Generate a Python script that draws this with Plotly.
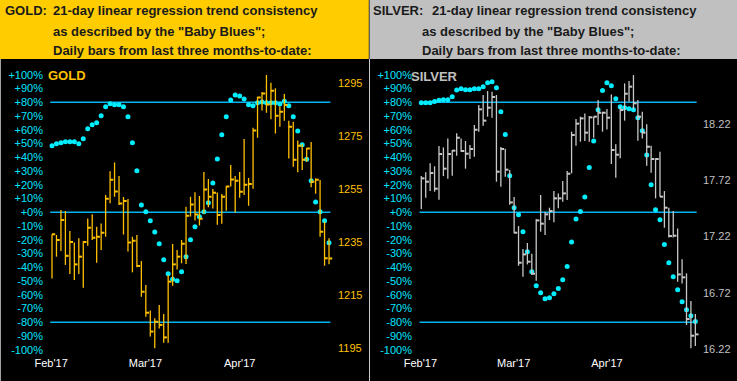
import plotly.graph_objects as go

# ---------------- data ----------------
months = ["Feb'17", "Mar'17", "Apr'17"]
month_tick_idx = [-0.2, 20.9, 42.0]

pct_ticks = list(range(-100, 101, 10))
pct_labels = [f"{v:+d}%" for v in pct_ticks]
trend_levels = [-80, 0, 80]

gold_price_ticks = [1195, 1215, 1235, 1255, 1275, 1295]
silver_price_ticks = [16.22, 16.72, 17.22, 17.72, 18.22]

gold_high = [1237.9, 1237.7, 1247.1, 1246.7, 1239.2, 1234.8, 1236.4, 1235.3, 1243.9, 1245.5,
             1240.8, 1242.0, 1252.7, 1261.7, 1265.0, 1259.9, 1252.0, 1251.2, 1237.0, 1237.7,
             1227.9, 1218.8, 1209.2, 1206.3, 1211.3, 1207.9, 1222.6, 1234.3, 1232.0, 1235.8,
             1248.3, 1252.1, 1253.8, 1252.3, 1261.4, 1258.7, 1255.0, 1253.7, 1253.1, 1256.1,
             1264.0, 1259.9, 1261.4, 1273.8, 1259.1, 1278.0, 1289.7, 1291.5, 1297.9, 1295.0,
             1292.9, 1286.0, 1290.7, 1280.7, 1280.3, 1273.2, 1271.9, 1270.4, 1272.7, 1259.0,
             1258.4, 1242.7, 1236.4]
gold_low = [1221.3, 1229.5, 1231.6, 1226.4, 1223.0, 1220.7, 1223.0, 1217.8, 1233.6, 1235.8,
            1227.2, 1232.0, 1237.0, 1249.6, 1252.1, 1249.0, 1237.8, 1231.4, 1223.6, 1225.5,
            1214.4, 1206.9, 1199.4, 1195.0, 1202.5, 1197.1, 1197.1, 1218.5, 1224.7, 1227.0,
            1226.7, 1244.6, 1243.1, 1241.2, 1245.8, 1248.1, 1247.6, 1241.5, 1241.9, 1246.8,
            1255.9, 1246.1, 1251.7, 1252.7, 1248.7, 1255.1, 1274.3, 1284.5, 1283.7, 1281.2,
            1275.9, 1278.4, 1280.7, 1266.5, 1263.4, 1261.3, 1262.1, 1265.2, 1255.6, 1253.2,
            1237.0, 1226.1, 1226.6]
gold_close = [1237.9, 1235.8, 1243.3, 1229.8, 1235.0, 1226.6, 1229.5, 1235.0, 1240.4, 1236.6,
              1237.0, 1238.5, 1251.3, 1258.5, 1254.0, 1249.5, 1250.5, 1234.8, 1235.5, 1226.0,
              1216.3, 1208.4, 1201.3, 1205.0, 1203.8, 1199.1, 1220.1, 1226.6, 1229.5, 1234.4,
              1244.9, 1249.1, 1245.4, 1243.8, 1254.8, 1252.1, 1253.6, 1245.2, 1252.1, 1255.9,
              1258.6, 1258.1, 1253.9, 1256.6, 1256.9, 1277.0, 1289.4, 1290.9, 1286.8, 1292.0,
              1282.6, 1284.1, 1286.6, 1278.4, 1266.0, 1271.3, 1266.0, 1270.2, 1257.7, 1258.5,
              1238.9, 1228.9, 1228.8]
gold_baby_blues = [48.4, 49.9, 50.6, 51.3, 51.3, 51.3, 49.9, 53.5, 60.8, 63.7,
                   65.2, 70.3, 76.8, 79.0, 78.3, 78.3, 76.8, 69.5, 50.6, 30.3,
                   5.3, 0.4, -6.1, -14.3, -22.8, -34.5, -44.7, -48.7, -49.7, -43.2,
                   -32.3, -19.9, -10.5, -3.2, 0.4, 7.0, 21.3, 38.8, 56.4, 69.5,
                   81.7, 85.3, 84.6, 82.4, 78.3, 77.5, 79.7, 80.2, 79.7, 79.7,
                   79.7, 78.8, 80.7, 77.5, 69.5, 59.1, 49.2, 38.5, 23.0, 7.5,
                   0.4, -6.1, -22.1]

silver_high = [17.757, 17.790, 17.870, 17.844, 18.024, 18.012, 18.092, 17.989, 18.137, 18.092,
               18.069, 18.033, 18.211, 18.389, 18.478, 18.513, 18.507, 18.478, 18.015, 18.001,
               17.811, 17.571, 17.313, 17.109, 17.162, 17.067, 17.375, 17.589, 17.440, 17.476,
               17.624, 17.603, 17.713, 17.802, 18.152, 18.264, 18.285, 18.314, 18.291, 18.285,
               18.433, 18.329, 18.353, 18.483, 18.039, 18.374, 18.581, 18.602, 18.655, 18.433,
               18.329, 18.217, 18.027, 17.915, 17.974, 17.624, 17.476, 17.446, 17.292, 17.017,
               16.892, 16.646, 16.531]
silver_low = [17.464, 17.565, 17.624, 17.618, 17.547, 17.757, 17.734, 17.760, 17.938, 17.974,
              17.823, 17.909, 17.929, 18.152, 18.205, 18.285, 18.276, 17.707, 17.663, 17.752,
              17.503, 17.248, 16.960, 16.863, 16.972, 16.877, 16.827, 17.263, 17.233, 17.366,
              17.346, 17.470, 17.529, 17.544, 17.781, 18.027, 18.063, 18.069, 18.063, 18.098,
              18.211, 18.152, 18.172, 17.864, 17.743, 17.915, 18.250, 18.418, 18.350, 18.072,
              18.092, 17.849, 17.787, 17.559, 17.574, 17.298, 17.212, 17.212, 16.818, 16.803,
              16.433, 16.226, 16.246]
silver_close = [17.737, 17.707, 17.784, 17.645, 17.953, 17.823, 17.953, 17.983, 18.098, 17.980,
                17.956, 17.998, 18.169, 18.350, 18.250, 18.365, 18.460, 17.796, 17.998, 17.814,
                17.523, 17.254, 16.987, 17.061, 16.996, 16.889, 17.363, 17.334, 17.417, 17.446,
                17.559, 17.559, 17.603, 17.778, 18.122, 18.223, 18.270, 18.143, 18.279, 18.285,
                18.320, 18.320, 18.276, 17.989, 17.947, 18.344, 18.489, 18.552, 18.404, 18.285,
                18.143, 18.018, 17.909, 17.909, 17.574, 17.476, 17.224, 17.227, 16.883, 16.857,
                16.486, 16.338, 16.350]
silver_baby_blues = [79.7, 79.7, 79.7, 80.5, 81.5, 81.9, 81.9, 84.1, 88.9, 89.9,
                     89.2, 89.2, 89.9, 89.9, 91.4, 94.3, 95.0, 90.6, 73.2, 56.5,
                     26.6, 3.4, -1.7, -14.1, -28.6, -43.2, -53.4, -58.5, -62.8, -62.1,
                     -59.2, -55.5, -49.0, -39.5, -21.6, -4.9, 0.5, 11.1, 32.5, 51.9,
                     74.6, 88.5, 94.3, 92.1, 82.6, 76.8, 76.1, 75.4, 74.6, 68.8,
                     59.4, 41.7, 20.1, 1.9, -5.4, -23.5, -36.6, -46.8, -56.3, -65.0,
                     -70.8, -75.2, -79.5]

header_line1 = "21-day linear regression trend consistency"
header_line2 = 'as described by the "Baby Blues";'
header_line3 = "Daily bars from last three months-to-date:"

# ---------------- styling / geometry ----------------
W, H = 737, 381
GOLD_BAR = "#FFC000"
SILVER_BAR = "#C8C8C8"
DOT = "#00EEFF"
LEVEL = "#00B4F0"
PCT_COL = "#00E5FF"
HEAD_TXT = "#1A1A1A"
FONT = "Liberation Sans, Arial, sans-serif"
TICK = 0.72


def fx(p):
    return p / W


def fy(p):
    return 1 - p / H


PLOT_TOP, PLOT_BOT = 59, 355
ydom = [fy(PLOT_BOT), fy(PLOT_TOP)]


def pct_at(py):
    return (212.3 - py) / 1.375


pct_range = [pct_at(PLOT_BOT), pct_at(PLOT_TOP)]


def gold_at(py):
    return 1295 - (py - 82.7) / 2.656


def silver_at(py):
    return 18.22 - (py - 124) / 112.5


def hlc(high, low, close):
    vx, vy, tx, ty = [], [], [], []
    for i, (h, l, c) in enumerate(zip(high, low, close)):
        vx += [i, i, None]
        vy += [l, h, None]
        tx += [i, i + TICK, None]
        ty += [c, c, None]
    return vx, vy, tx, ty


fig = go.Figure()

for (hi, lo, cl, bb, col, xa, ya_pct, ya_px) in [
    (gold_high, gold_low, gold_close, gold_baby_blues, GOLD_BAR, "x", "y", "y2"),
    (silver_high, silver_low, silver_close, silver_baby_blues, SILVER_BAR, "x2", "y3", "y4"),
]:
    vx, vy, tx, ty = hlc(hi, lo, cl)
    fig.add_trace(go.Scatter(x=vx, y=vy, mode="lines", line=dict(color=col, width=1.3),
                             xaxis=xa, yaxis=ya_px, hoverinfo="skip", showlegend=False))
    fig.add_trace(go.Scatter(x=tx, y=ty, mode="lines", line=dict(color=col, width=2),
                             xaxis=xa, yaxis=ya_px, hoverinfo="skip", showlegend=False))
    fig.add_trace(go.Scatter(x=list(range(len(bb))), y=bb, mode="markers",
                             marker=dict(color=DOT, size=5, line=dict(width=0)),
                             xaxis=xa, yaxis=ya_pct, showlegend=False))

shapes = []
for xa, ya in [("x", "y"), ("x2", "y3")]:
    for lv in trend_levels:
        shapes.append(dict(type="line", xref=xa, yref=ya, x0=-0.4, x1=len(gold_high) - 0.7,
                           y0=lv, y1=lv, line=dict(color=LEVEL, width=1.5), layer="below"))
# header backgrounds
shapes.append(dict(type="rect", xref="paper", yref="paper", x0=0, x1=fx(368.8), y0=fy(PLOT_TOP), y1=1,
                   fillcolor="#FFCC00", line=dict(width=0), layer="above"))
shapes.append(dict(type="rect", xref="paper", yref="paper", x0=fx(369.5), x1=1, y0=fy(PLOT_TOP), y1=1,
                   fillcolor="#C0C0C0", line=dict(width=0), layer="above"))
# separators
shapes.append(dict(type="line", xref="paper", yref="paper", x0=fx(369.5), x1=fx(369.5), y0=0, y1=fy(PLOT_TOP),
                   line=dict(color="#C8C8C8", width=1), layer="above"))
shapes.append(dict(type="line", xref="paper", yref="paper", x0=fx(0.5), x1=fx(0.5), y0=0, y1=fy(PLOT_TOP),
                   line=dict(color="#A0A0A0", width=1), layer="above"))

annotations = []


def head(text, px, py):
    annotations.append(dict(text=text, xref="paper", yref="paper", x=fx(px), y=fy(py),
                            xanchor="left", yanchor="middle", showarrow=False,
                            font=dict(family=FONT, size=13, color=HEAD_TXT, weight="bold")))


head("GOLD:", 3, 11)
head(header_line1, 50.5, 11)
head(header_line2, 50.5, 31)
head(header_line3, 50.5, 50)
head("SILVER:", 371, 11)
head(header_line1, 430, 11)
head(header_line2, 419.5, 31)
head(header_line3, 419.5, 50)

annotations.append(dict(text="GOLD", xref="paper", yref="paper", x=fx(45.5), y=fy(75.5),
                        xanchor="left", yanchor="middle", showarrow=False,
                        font=dict(family=FONT, size=13, color=GOLD_BAR, weight="bold")))
annotations.append(dict(text="SILVER", xref="paper", yref="paper", x=fx(409), y=fy(76.5),
                        xanchor="left", yanchor="middle", showarrow=False,
                        font=dict(family=FONT, size=13, color="#C0C0C0", weight="bold")))

common_x = dict(showgrid=False, zeroline=False, showline=False, ticks="",
                tickvals=month_tick_idx, ticktext=months,
                tickfont=dict(family=FONT, size=11, color="white"), fixedrange=True)
common_pct = dict(showgrid=False, zeroline=False, showline=False, ticks="",
                  tickvals=pct_ticks, ticktext=pct_labels, range=pct_range, domain=ydom,
                  tickfont=dict(family=FONT, size=11, color=PCT_COL), anchor="free", side="left",
                  fixedrange=True)
common_px = dict(showgrid=False, zeroline=False, showline=False, ticks="", anchor="free",
                 side="right", domain=ydom, fixedrange=True)

fig.update_layout(
    width=W, height=H, margin=dict(l=0, r=0, t=0, b=0),
    paper_bgcolor="black", plot_bgcolor="black", showlegend=False,
    xaxis=dict(domain=[0, fx(368.8)], range=[(0 - 52) / 4.468, (368.8 - 52) / 4.468], anchor="y", **common_x),
    xaxis2=dict(domain=[fx(370), 1], range=[(370 - 421.3) / 4.42, (737 - 421.3) / 4.42], anchor="y3", **common_x),
    yaxis=dict(position=fx(43), **common_pct),
    yaxis2=dict(overlaying="y", position=fx(337), range=[gold_at(PLOT_BOT), gold_at(PLOT_TOP)],
                tickvals=gold_price_ticks, tickfont=dict(family=FONT, size=11, color=GOLD_BAR), **common_px),
    yaxis3=dict(position=fx(412), **common_pct),
    yaxis4=dict(overlaying="y3", position=fx(702), range=[silver_at(PLOT_BOT), silver_at(PLOT_TOP)],
                tickvals=silver_price_ticks, ticktext=[f"{v:.2f}" for v in silver_price_ticks],
                tickfont=dict(family=FONT, size=11, color="#C0C0C0"), **common_px),
    shapes=shapes, annotations=annotations,
)

fig.write_html("out.html", config={"displayModeBar": False},
               post_script="document.body.style.margin='0';document.body.style.overflow='hidden';")
